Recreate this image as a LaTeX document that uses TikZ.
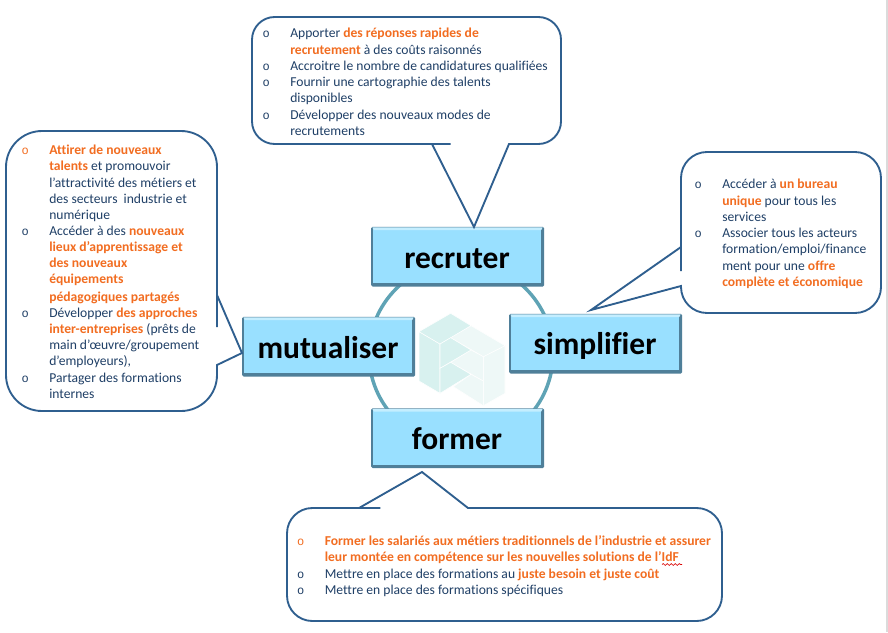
\documentclass[tikz,border=0pt]{standalone}
\usepackage{fontspec}
\setmainfont{Carlito}[Ligatures=NoCommon]
\newfontfamily\bulfont{Liberation Mono}
\usetikzlibrary{decorations.pathmorphing}
\definecolor{txt}{HTML}{1F3F66}
\definecolor{org}{HTML}{F26D21}
\definecolor{edge}{HTML}{2F5F8F}
\definecolor{ring}{HTML}{5FA3B5}
\definecolor{boxfill}{HTML}{99E0FF}
\definecolor{boxhi}{HTML}{C4EEFF}
\definecolor{boxlo}{HTML}{4F7F99}
\definecolor{logoa}{HTML}{D8F1EF}
\definecolor{logob}{HTML}{EEF8F7}
\newcommand{\hl}[1]{\textcolor{org}{\textbf{#1}}}
\newcommand{\bu}[1][txt]{\llap{\textcolor{#1}{\bulfont\fontsize{9pt}{9pt}\selectfont o}\hspace{15.3pt}}}
\tikzset{
  callout/.style={draw=edge,line width=1.4pt,fill=white,line join=miter},
  bodytext/.style={inner sep=0pt,anchor=north west,align=left,text=txt,font=\fontsize{10.2pt}{12.2pt}\selectfont},
  catbox/.style={draw=none,inner sep=0pt,minimum width=128pt,minimum height=43pt},
  catlabel/.style={inner sep=0pt,anchor=base,font=\bfseries\fontsize{23.6pt}{24pt}\selectfont,text=black},
  logod/.style={fill=logoa,draw=white,line width=.4pt},
  logol/.style={fill=logob,draw=white,line width=.4pt}
}
\newcommand{\bevel}[1]{%
  \fill[boxlo,rounded corners=1pt] ([xshift=-.5pt,yshift=.5pt]#1.north west) rectangle ([xshift=.8pt,yshift=-.8pt]#1.south east);
  \fill[boxfill] ([xshift=.6pt,yshift=-.6pt]#1.north west) rectangle ([xshift=-1.4pt,yshift=1.6pt]#1.south east);
  \fill[boxhi] ([xshift=.3pt,yshift=.2pt]#1.north west) -- ([xshift=-.3pt,yshift=.2pt]#1.north east) -- ([xshift=-1.5pt,yshift=-2pt]#1.north east) -- ([xshift=1.5pt,yshift=-2pt]#1.north west) -- cycle;
}
\begin{document}
\begin{tikzpicture}[x=.75pt,y=-.75pt]
\useasboundingbox (0,0) rectangle (888,632);
\fill[white] (0,0) rectangle (888,632);
\fill[black!14] (886,0) rectangle (888,632);
% ring
\draw[ring,line width=2.6pt] (461,354) circle [radius=69pt];
% logo
\begin{scope}[shift={(410,305)},x=.25pt,y=-.25pt]
\fill[logol] (285,122)--(220,155)--(220,302)--(285,265)--cycle;
\fill[logol] (122,98)--(183,62)--(285,122)--(220,155)--cycle;
\fill[logol] (183,135)--(220,155)--(220,228)--(122,172)--cycle;
\fill[logol] (130,245)--(183,208)--(220,228)--(220,302)--cycle;
\fill[logod] (27,80)--(90,117)--(90,265)--(27,228)--cycle;
\fill[logod] (122,25)--(183,62)--(90,117)--(27,80)--cycle;
\fill[logod] (90,117)--(122,98)--(183,135)--(90,190)--cycle;
\fill[logod] (90,190)--(122,172)--(183,208)--(90,265)--cycle;
\end{scope}
% category boxes
\node[catbox] (recruter) at (457.5,256.5) {};
\node[catbox] (mutualiser) at (328.5,346.5) {};
\node[catbox] (simplifier) at (595.5,343.5) {};
\node[catbox] (former) at (457.5,438) {};
\bevel{recruter}\bevel{mutualiser}\bevel{simplifier}\bevel{former}
\node[catlabel] (lr) at (457,268) {recruter};
\node[catlabel] (lm) at (328,358) {mutualiser};
\node[catlabel] (ls) at (595,354) {simplifier};
\node[catlabel] (lf) at (457,449) {former};
% callouts
\coordinate (tipT) at (474,227);
\coordinate (tipL) at (242,353);
\coordinate (tipR) at (591,310);
\coordinate (tipB) at (422,472);
\draw[callout] (432,144) -- (tipT) -- (509,144) -- (512,144) [rounded corners=17pt] -- (561,144) -- (561,17) -- (252,17) -- (252,144) -- (428,144) [sharp corners] -- cycle;
\draw[callout] (217,295) -- (tipL) -- (217,365) -- (217,367) [rounded corners=27pt] -- (217,411) -- (6,411) -- (6,131) -- (217,131) -- (217,291) [sharp corners] -- cycle;
\draw[callout] (681,247) -- (tipR) -- (681,286) -- (681,286.5) [rounded corners=19.5pt] -- (681,313) -- (881,313) -- (881,152) -- (681,152) -- (681,245) [sharp corners] -- cycle;
\draw[callout] (359,508) -- (tipB) -- (468,508) -- (472,508) [rounded corners=19pt] -- (722,508) -- (722,621) -- (287,621) -- (287,508) -- (355,508) [sharp corners] -- cycle;
% texts
\node[bodytext] (t) at (290,28) {\bu Apporter \hl{des réponses rapides de}\\
\hl{recrutement} à des coûts raisonnés\\
\bu Accroitre le nombre de candidatures qualifiées\\
\bu Fournir une cartographie des talents\\
disponibles\\
\bu Développer des nouveaux modes de\\
recrutements};
\node[bodytext,font=\fontsize{10.2pt}{12.1pt}\selectfont] (l) at (49,145) {\bu[org]\hl{Attirer de nouveaux}\\
\hl{talents} et promouvoir\\
l’attractivité des métiers et\\
des secteurs\ \ industrie et\\
numérique\\
\bu Accéder à des \hl{nouveaux}\\
\hl{lieux d’apprentissage et}\\
\hl{des nouveaux}\\
\hl{équipements}\\[1pt]
\hl{pédagogiques partagés}\\
\bu Développer \hl{des approches}\\
\hl{inter-entreprises} (prêts de\\
main d’œuvre/groupement\\
d’employeurs),\\
\bu Partager des formations\\
internes};
\node[bodytext] (r) at (722,179) {\bu Accéder à \hl{un bureau}\\
\hl{unique} pour tous les\\
services\\
\bu Associer tous les acteurs\\
formation/emploi/finance\\
ment pour une \hl{offre}\\
\hl{complète et économique}};
\node[bodytext] (b) at (324.5,535.5) {\bu[org]\hl{Former les salariés aux métiers traditionnels de l’industrie et assurer}\\
\hl{leur montée en compétence sur les nouvelles solutions de l’IdF}\\
\bu Mettre en place des formations au \hl{juste besoin et juste coût}\\
\bu Mettre en place des formations spécifiques};
\coordinate (wa) at (662,564.5);
\coordinate (wb) at (682,564.5);
\draw[red!85!black,line width=.5pt,decorate,decoration={snake,amplitude=.7pt,segment length=3pt}] (wa) -- (wb);
\end{tikzpicture}
\end{document}
